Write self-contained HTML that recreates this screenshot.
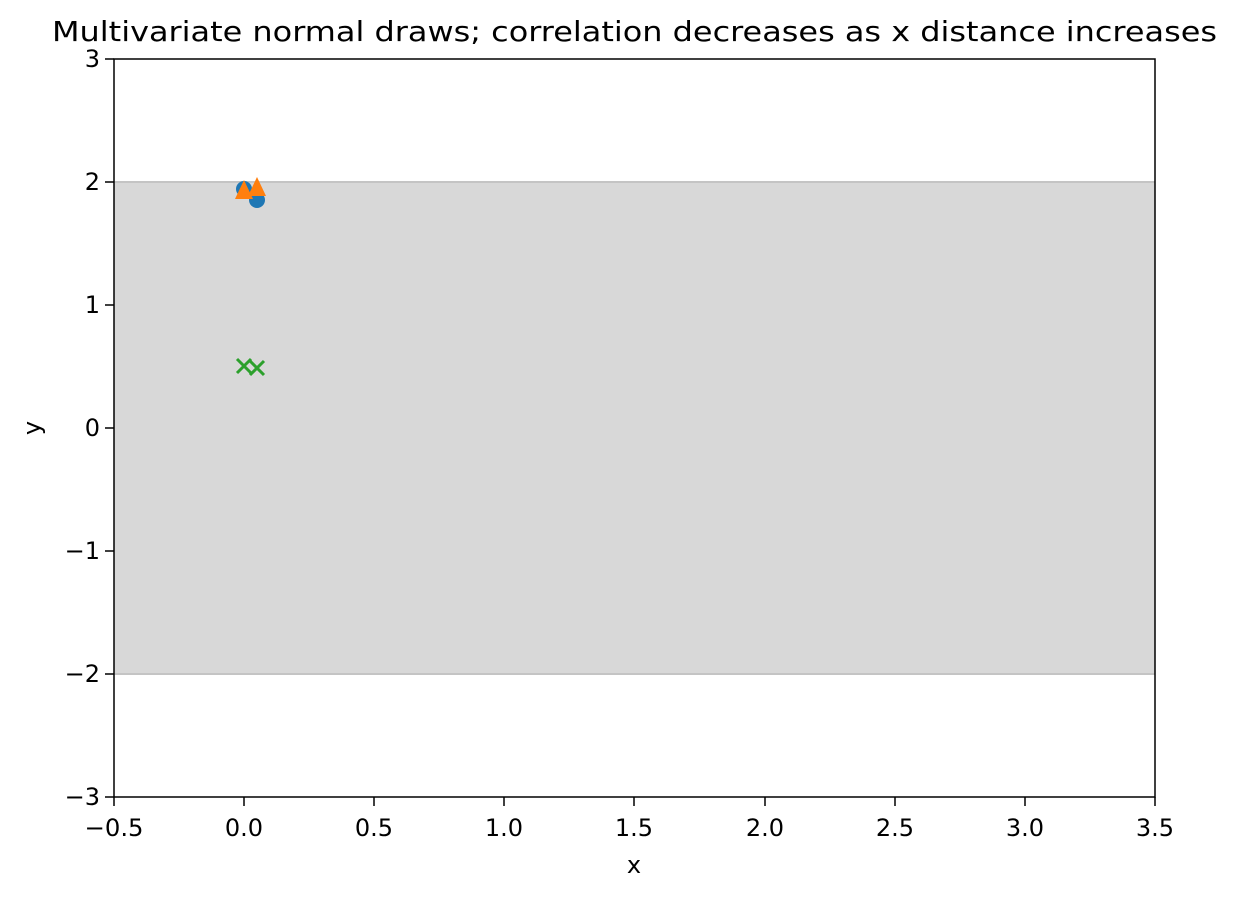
<!DOCTYPE html><html><head><style>body{margin:0;background:#fff}</style></head><body>
<svg width="1237" height="898" xmlns="http://www.w3.org/2000/svg" font-family="DejaVu Sans, Liberation Sans, sans-serif">
<rect width="1237" height="898" fill="#fff"/>
<rect x="114" y="182" width="1041" height="492" fill="#d8d8d8"/>
<line x1="114" y1="182" x2="1155" y2="182" stroke="#c4c4c4" stroke-width="2"/>
<line x1="114" y1="674" x2="1155" y2="674" stroke="#c4c4c4" stroke-width="2"/>
<circle cx="244" cy="189" r="8" fill="#1f77b4"/>
<circle cx="257" cy="200" r="8" fill="#1f77b4"/>
<polygon points="244,180 235,199 253,199" fill="#ff7f0e"/>
<polygon points="257,177 248,196 266,196" fill="#ff7f0e"/>
<g stroke="#2ca02c" stroke-width="3"><path d="M237,359L251,373M251,359L237,373"/><path d="M250,361L264,375M264,361L250,375"/></g>
<rect x="114" y="59" width="1041" height="738" fill="none" stroke="#000" stroke-width="1.5"/>
<g stroke="#000" stroke-width="1.5">
<path d="M114,797v9M244,797v9M374,797v9M504,797v9M634,797v9M765,797v9M895,797v9M1025,797v9M1155,797v9"/>
<path d="M114,59h-9M114,182h-9M114,305h-9M114,428h-9M114,551h-9M114,674h-9M114,797h-9"/>
</g>
<g font-size="24" text-anchor="middle">
<text x="114" y="836" textLength="59" lengthAdjust="spacingAndGlyphs">−0.5</text><text x="244" y="836">0.0</text><text x="374" y="836">0.5</text><text x="504" y="836">1.0</text><text x="634" y="836">1.5</text><text x="765" y="836">2.0</text><text x="895" y="836">2.5</text><text x="1025" y="836">3.0</text><text x="1155" y="836">3.5</text>
<text x="634" y="873">x</text>
</g>
<g font-size="24" text-anchor="end">
<text x="100" y="67">3</text><text x="100" y="190">2</text><text x="100" y="313">1</text><text x="100" y="436">0</text><text x="100" y="559">−1</text><text x="100" y="682">−2</text><text x="100" y="805">−3</text>
</g>
<text x="40" y="428" font-size="24" text-anchor="middle" transform="rotate(-90 40 428)">y</text>
<text x="52" y="41" font-size="28" textLength="1165" lengthAdjust="spacingAndGlyphs">Multivariate normal draws; correlation decreases as x distance increases</text>
</svg></body></html>
